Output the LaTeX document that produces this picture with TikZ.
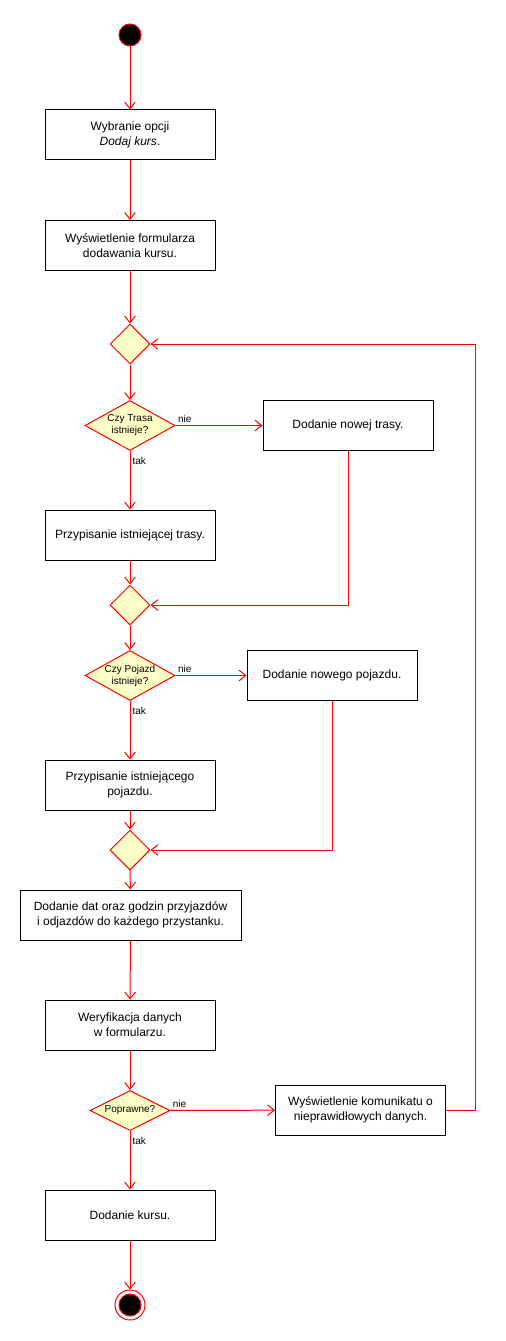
\documentclass[tikz,border=0pt]{standalone}
\usepackage{fontspec}
\setmainfont{Liberation Sans}
\usetikzlibrary{shapes.geometric,arrows.meta}

\definecolor{decyzjafill}{RGB}{255,255,200}

\tikzset{
    akcja/.style={draw=black, line width=0.75pt, fill=white, minimum width=127.5pt,
        minimum height=37.5pt, align=center, inner sep=2pt,
        font=\fontsize{9}{11}\selectfont},
    decyzja/.style={diamond, draw=red, fill=decyzjafill, line width=0.75pt, aspect=1.8,
        inner sep=0pt, minimum width=67.5pt, minimum height=37.5pt, align=center,
        font=\fontsize{7.5}{9}\selectfont},
    scalanie/.style={diamond, draw=red, fill=decyzjafill, line width=0.75pt,
        inner sep=0pt, minimum width=30pt, minimum height=30pt},
    poczatek/.style={circle, draw=red, fill=black, line width=0.75pt, inner sep=0pt,
        minimum size=16.5pt},
    koniec/.style={circle, draw=red, line width=0.75pt, inner sep=0pt, minimum size=22.5pt},
    przejscie/.style={draw=red, line width=0.75pt, -{Straight Barb[length=5pt,width=8pt]}},
    etykieta/.style={font=\fontsize{7.5}{9}\selectfont, inner sep=1.5pt, text=black},
    nie/.style={etykieta, at start, anchor=south west},
    tak/.style={etykieta, at start, anchor=north west, yshift=-3pt}
}

\begin{document}
\begin{tikzpicture}[x=0.75pt,y=-0.75pt]
            \useasboundingbox (0,0) rectangle (506,1341);

            % wezly glownej sciezki
            \node[poczatek] (start) at (130,35) {};
            \node[akcja] (wybor) at (130,135) {Wybranie opcji\\\textit{Dodaj kurs}.};
            \node[akcja] (formularz) at (130,245.5) {Wyświetlenie formularza\\dodawania kursu.};
            \node[scalanie] (m1) at (130,344) {};
            \node[decyzja] (d1) at (130,425.5) {Czy Trasa\\istnieje?};
            \node[akcja] (trasa) at (348,425.5) {Dodanie nowej trasy.};
            \node[akcja] (przypTrasa) at (130,535) {Przypisanie istniejącej trasy.};
            \node[scalanie] (m2) at (130,605) {};
            \node[decyzja] (d2) at (130,675.5) {Czy Pojazd\\istnieje?};
            \node[akcja] (pojazd) at (332,675.5) {Dodanie nowego pojazdu.};
            \node[akcja] (przypPojazd) at (130,785) {Przypisanie istniejącego\\pojazdu.};
            \node[scalanie] (m3) at (130,850) {};
            \node[akcja, minimum width=165.75pt] (daty) at (130.5,915)
                {Dodanie dat oraz godzin przyjazdów\\i odjazdów do każdego przystanku.};
            \node[akcja] (weryf) at (130,1025) {Weryfikacja danych\\w formularzu.};
            \node[decyzja, aspect=2, minimum width=60pt, minimum height=30pt] (d3) at (130,1110.5) {Poprawne?};
            \node[akcja] (blad) at (360.5,1110) {Wyświetlenie komunikatu o\\nieprawidłowych danych.};
            \node[akcja] (kurs) at (130,1215) {Dodanie kursu.};
            \node[koniec] (koniec) at (130,1305) {};
            \node[poczatek] (koniecSrodek) at (koniec) {};
            \coordinate (petla) at (475,1110);

            % przejscia
            \draw[przejscie] (start) -- (wybor);
            \draw[przejscie] (wybor) -- (formularz);
            \draw[przejscie] (formularz) -- (m1);
            \draw[przejscie] (m1) -- (d1);
            \draw[przejscie] (d1) -- node[nie] {nie} (trasa);
            \draw[przejscie] (d1) -- node[tak] {tak} (przypTrasa);
            \draw[przejscie] (przypTrasa) -- (m2);
            \draw[przejscie] (trasa) |- (m2);
            \draw[przejscie] (m2) -- (d2);
            \draw[przejscie] (d2) -- node[nie] {nie} (pojazd);
            \draw[przejscie] (d2) -- node[tak] {tak} (przypPojazd);
            \draw[przejscie] (przypPojazd) -- (m3);
            \draw[przejscie] (pojazd) |- (m3);
            \draw[przejscie] (m3) -- (daty);
            \draw[przejscie] (daty) -- (weryf);
            \draw[przejscie] (weryf) -- (d3);
            \draw[przejscie] (d3) -- node[nie] {nie} (blad);
            \draw[przejscie] (d3) -- node[tak] {tak} (kurs);
            \draw[przejscie] (blad) -- (petla) |- (m1);
            \draw[przejscie] (kurs) -- (koniec);
\end{tikzpicture}
\end{document}
